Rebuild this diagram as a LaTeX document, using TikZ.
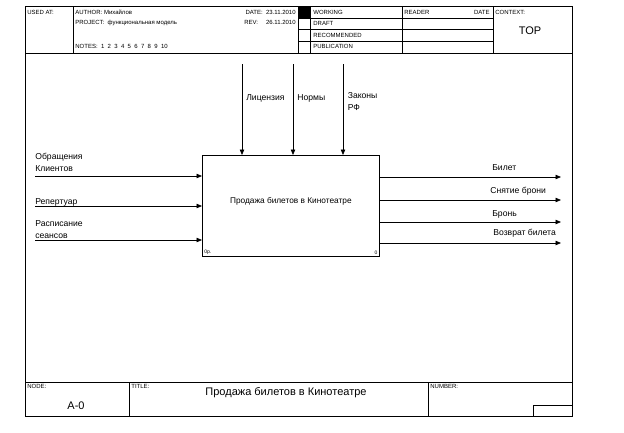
\documentclass[tikz,border=0pt]{standalone}
\usepackage{fontspec}
\setmainfont{Liberation Sans}
\usetikzlibrary{arrows.meta}

\begin{document}
\begin{tikzpicture}[x=1pt, y=-1pt, line width=0.7pt,
  arr/.style={-{Triangle[length=5.5pt,width=4.5pt]}},
  lbl/.style={inner sep=0pt, align=left, font=\fontsize{8.6}{12}\selectfont},
  hdr/.style={inner sep=0pt, anchor=base west, font=\fontsize{6}{7}\selectfont}]
\useasboundingbox (0,0) rectangle (624,432);

% frame and header
\draw (25,6) rectangle (572,416);
\draw (25,53) -- (572,53);
\draw (73,6) -- (73,53);
\draw (298,6) -- (298,53);
\draw (310,6) -- (310,53);
\draw (402,6) -- (402,53);
\draw (493,6) -- (493,53);
\draw (298,18) -- (493,18);
\draw (298,29.5) -- (493,29.5);
\draw (298,41) -- (493,41);
\fill (298,6) rectangle (310,18);

\node[hdr] (usedat) at (27,14) {USED AT:};
\node[hdr] (author) at (75,14) {AUTHOR:\ Михайлов};
\node[hdr] (project) at (75,24.5) {PROJECT:\ \ функциональная модель};
\node[hdr] (notes) at (75,48.5) {NOTES:\ \ 1\ \ 2\ \ 3\ \ 4\ \ 5\ \ 6\ \ 7\ \ 8\ \ 9\ \ 10};
\node[hdr, anchor=base east] (date) at (296,14) {DATE:\ \ 23.11.2010};
\node[hdr, anchor=base east] (rev) at (296,24.5) {REV:\hspace{8pt}26.11.2010};
\node[hdr] (working) at (313,14) {WORKING};
\node[hdr] (draft) at (313,25.5) {DRAFT};
\node[hdr] (recommended) at (313,37) {RECOMMENDED};
\node[hdr] (publication) at (313,48.5) {PUBLICATION};
\node[hdr] (reader) at (404,14) {READER};
\node[hdr, anchor=base east] (rdate) at (490,14) {DATE};
\node[hdr] (context) at (495,14) {CONTEXT:};
\node[inner sep=0pt, anchor=base, font=\fontsize{11}{13}\selectfont] (top) at (530,34) {TOP};

% footer
\draw (25,382) -- (572,382);
\draw (129,382) -- (129,416);
\draw (428,382) -- (428,416);
\draw (533,416) |- (572,405);
\node[hdr] (node) at (27,388) {NODE:};
\node[hdr] (title) at (131,388) {TITLE:};
\node[hdr] (number) at (430,388) {NUMBER:};
\node[inner sep=0pt, anchor=base, font=\fontsize{11}{13}\selectfont] (nodeno) at (76,409) {A-0};
\node[inner sep=0pt, anchor=base, font=\fontsize{11}{13}\selectfont] (titletext) at (286,395) {Продажа билетов в Кинотеатре};

% function box
\node[draw, anchor=north west, minimum width=177pt, minimum height=101pt, inner sep=0pt,
  text depth=10pt, font=\fontsize{8.3}{10}\selectfont] (func) at (202,155) {Продажа билетов в Кинотеатре};
\node[anchor=south west, inner sep=2pt, font=\fontsize{5}{6}\selectfont] (funcno) at (func.south west) {0р.};
\node[anchor=south east, inner sep=2pt, font=\fontsize{5}{6}\selectfont] (funcid) at (func.south east) {0};

% inputs
\coordinate (in1) at (35,176);
\coordinate (in2) at (35,206);
\coordinate (in3) at (35,240);
\draw[arr] (in1) -- (in1 -| func.west);
\draw[arr] (in2) -- (in2 -| func.west);
\draw[arr] (in3) -- (in3 -| func.west);
\node[lbl, anchor=south west] (lin1) at (35,171.5) {Обращения\\Клиентов};
\node[lbl, anchor=base west] (lin2) at (35,204.5) {Репертуар};
\node[lbl, anchor=south west] (lin3) at (35,239) {Расписание\\сеансов};

% controls
\coordinate (c1) at (242,64);
\coordinate (c2) at (293,64);
\coordinate (c3) at (343,64);
\draw[arr] (c1) -- (c1 |- func.north);
\draw[arr] (c2) -- (c2 |- func.north);
\draw[arr] (c3) -- (c3 |- func.north);
\node[lbl, anchor=base west] (lc1) at (246,100.5) {Лицензия};
\node[lbl, anchor=base west] (lc2) at (297,100.5) {Нормы};
\node[lbl, anchor=north west] (lc3) at (347.5,92.5) {Законы\\РФ};

% outputs
\coordinate (out1) at (561,177);
\coordinate (out2) at (561,200);
\coordinate (out3) at (561,222);
\coordinate (out4) at (561,243);
\draw[arr] (func.east |- out1) -- (out1);
\draw[arr] (func.east |- out2) -- (out2);
\draw[arr] (func.east |- out3) -- (out3);
\draw[arr] (func.east |- out4) -- (out4);
\node[lbl, anchor=base west] (lout1) at (492,170) {Билет};
\node[lbl, anchor=base west] (lout2) at (490,193) {Снятие брони};
\node[lbl, anchor=base west] (lout3) at (492,216) {Бронь};
\node[lbl, anchor=base west] (lout4) at (493,235) {Возврат билета};
\end{tikzpicture}
\end{document}
